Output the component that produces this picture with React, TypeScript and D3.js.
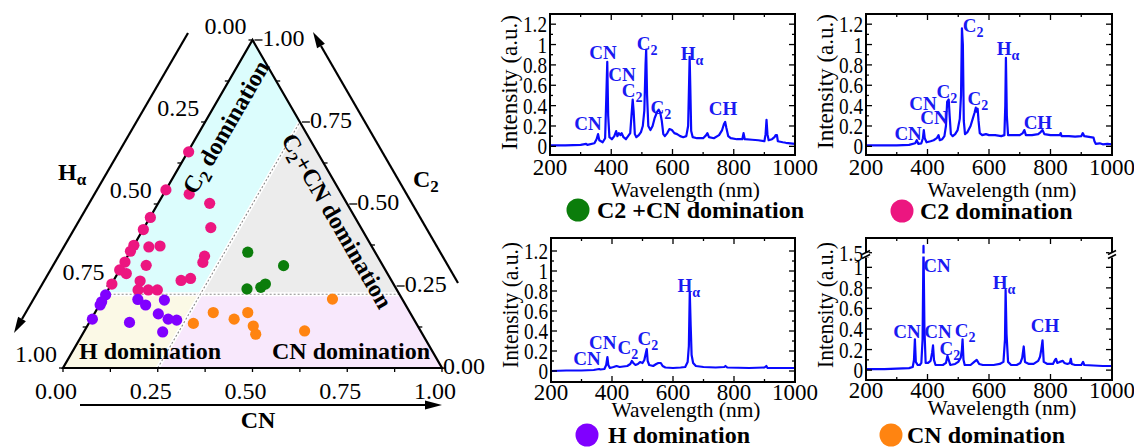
import React from "react";
import * as d3 from "d3";

// ---------- Ternary data: [CN, C2]  (Hα = 1 - CN - C2) ----------
const c2DomPoints: [number, number][] = [
  [0.002, 0.659], [0.0, 0.543], [0.068, 0.53], [0.136, 0.502], [0.001, 0.459],
  [0.176, 0.428], [0.001, 0.422], [0.0, 0.374], [0.042, 0.369], [0.07, 0.372],
  [0.0, 0.356], [0.203, 0.341], [0.208, 0.322], [0.002, 0.323], [0.063, 0.313],
  [0.0, 0.299], [0.023, 0.288], [0.178, 0.267], [0.2, 0.273], [0.001, 0.256],
  [0.071, 0.265], [0.079, 0.238], [0.106, 0.238], [0.13, 0.238],
];
const hDomPoints: [number, number][] = [
  [0.001, 0.223], [0.001, 0.202], [0.002, 0.192], [0.003, 0.149], [0.106, 0.139],
  [0.093, 0.209], [0.122, 0.192], [0.164, 0.207], [0.169, 0.165], [0.203, 0.149],
  [0.227, 0.146], [0.208, 0.11],
];
const c2cnDomPoints: [number, number][] = [
  [0.311, 0.353], [0.426, 0.312], [0.365, 0.241], [0.399, 0.246], [0.406, 0.256],
];
const cnDomPoints: [number, number][] = [
  [0.606, 0.21], [0.312, 0.169], [0.276, 0.136], [0.377, 0.149], [0.403, 0.169],
  [0.438, 0.128], [0.457, 0.103], [0.581, 0.113],
];
const c2Boundary = 0.225;
const cnBoundary = 0.25;
const ternMajor = [0, 0.25, 0.5, 0.75, 1];
const ternMajorLabels = ["0.00", "0.25", "0.50", "0.75", "1.00"];
const ternMinor = [0, 0.125, 0.25, 0.375, 0.5, 0.625, 0.75, 0.875, 1];

// ---------- Spectra: [wavelength nm, intensity a.u.] ----------
const specC2CN: [number, number][] = [
  [200, 0.01], [250, 0.01], [300, 0.015], [318, 0.025], [322, 0.015], [345, 0.03], [352, 0.07], [357, 0.12],
  [361, 0.06], [372, 0.04], [380, 0.08], [384, 0.5], [387, 0.83], [390, 0.3], [394, 0.09], [402, 0.07],
  [410, 0.1], [416, 0.15], [420, 0.1], [425, 0.13], [430, 0.11], [434, 0.13], [440, 0.09], [448, 0.07],
  [455, 0.1], [462, 0.13], [466, 0.3], [470, 0.46], [473, 0.35], [477, 0.12], [482, 0.09], [490, 0.11],
  [497, 0.14], [503, 0.2], [508, 0.35], [512, 0.8], [514, 0.95], [517, 0.5], [521, 0.2], [528, 0.16],
  [535, 0.2], [542, 0.28], [550, 0.34], [555, 0.36], [560, 0.33], [565, 0.25], [570, 0.12], [575, 0.1],
  [583, 0.13], [590, 0.17], [598, 0.16], [606, 0.13], [615, 0.12], [625, 0.1], [635, 0.09], [645, 0.1],
  [651, 0.2], [654, 0.6], [656, 0.88], [658, 0.6], [661, 0.15], [666, 0.09], [680, 0.08], [700, 0.08],
  [710, 0.11], [714, 0.13], [719, 0.09], [735, 0.08], [752, 0.11], [762, 0.16], [768, 0.22], [772, 0.24],
  [776, 0.18], [782, 0.1], [790, 0.08], [810, 0.07], [828, 0.07], [832, 0.13], [836, 0.07], [860, 0.065],
  [880, 0.06], [900, 0.05], [904, 0.12], [907, 0.26], [910, 0.12], [914, 0.06], [925, 0.07], [933, 0.09],
  [937, 0.11], [941, 0.11], [944, 0.05], [960, 0.04], [970, 0.035], [985, 0.03], [1000, 0.025],
];
const specC2: [number, number][] = [
  [200, 0.01], [300, 0.01], [340, 0.015], [360, 0.03], [365, 0.06], [370, 0.025], [380, 0.03], [385, 0.08],
  [388, 0.16], [391, 0.08], [397, 0.04], [410, 0.05], [420, 0.06], [430, 0.08], [436, 0.11], [440, 0.06],
  [448, 0.07], [455, 0.1], [460, 0.2], [464, 0.44], [469, 0.46], [472, 0.3], [476, 0.12], [482, 0.1],
  [490, 0.12], [498, 0.16], [505, 0.27], [509, 0.5], [512, 1.16], [515, 1.0], [518, 0.25], [522, 0.12],
  [530, 0.14], [540, 0.2], [548, 0.28], [553, 0.33], [557, 0.38], [560, 0.34], [563, 0.37], [566, 0.25],
  [570, 0.13], [578, 0.11], [590, 0.12], [600, 0.11], [620, 0.11], [640, 0.1], [650, 0.11], [653, 0.4],
  [655, 0.87], [658, 0.3], [662, 0.11], [680, 0.11], [700, 0.11], [710, 0.13], [715, 0.16], [720, 0.11],
  [740, 0.11], [760, 0.12], [768, 0.14], [774, 0.16], [780, 0.12], [800, 0.11], [830, 0.11], [833, 0.13],
  [836, 0.1], [860, 0.1], [880, 0.095], [900, 0.1], [905, 0.13], [910, 0.1], [930, 0.09], [940, 0.085],
  [943, 0.05], [947, 0.025], [960, 0.03], [970, 0.02], [985, 0.025], [1000, 0.02],
];
const specH: [number, number][] = [
  [200, 0.0], [250, 0.005], [300, 0.005], [340, 0.01], [358, 0.02], [362, 0.015], [375, 0.02], [381, 0.06],
  [385, 0.14], [388, 0.06], [393, 0.03], [405, 0.04], [415, 0.05], [425, 0.04], [437, 0.045], [450, 0.05],
  [460, 0.07], [465, 0.1], [470, 0.08], [477, 0.06], [485, 0.07], [492, 0.09], [500, 0.08], [506, 0.11],
  [511, 0.18], [514, 0.22], [517, 0.1], [522, 0.06], [535, 0.05], [545, 0.07], [552, 0.08], [560, 0.08],
  [566, 0.05], [575, 0.035], [600, 0.03], [625, 0.035], [640, 0.04], [648, 0.09], [652, 0.25], [655, 0.79],
  [658, 0.45], [661, 0.16], [666, 0.08], [675, 0.05], [700, 0.04], [740, 0.035], [768, 0.04], [772, 0.05],
  [778, 0.035], [850, 0.03], [900, 0.035], [906, 0.05], [910, 0.03], [950, 0.03], [1000, 0.03],
];
const specCN: [number, number][] = [
  [200, 0.01], [260, 0.01], [300, 0.015], [340, 0.02], [352, 0.03], [356, 0.1], [359, 0.3], [362, 0.08],
  [368, 0.05], [375, 0.05], [380, 0.07], [384, 0.3], [387, 1.65], [390, 0.4], [394, 0.07], [402, 0.07],
  [410, 0.09], [415, 0.17], [418, 0.24], [421, 0.1], [426, 0.05], [440, 0.05], [450, 0.05], [460, 0.07],
  [465, 0.14], [469, 0.1], [474, 0.05], [490, 0.06], [500, 0.08], [508, 0.12], [512, 0.2], [514, 0.3],
  [517, 0.1], [521, 0.05], [540, 0.05], [552, 0.08], [560, 0.1], [568, 0.06], [580, 0.05], [600, 0.05],
  [615, 0.05], [635, 0.06], [647, 0.08], [652, 0.3], [654, 0.78], [657, 0.35], [662, 0.08], [672, 0.05],
  [690, 0.05], [702, 0.07], [708, 0.12], [713, 0.23], [717, 0.08], [730, 0.06], [745, 0.06], [760, 0.09],
  [766, 0.13], [770, 0.2], [774, 0.29], [778, 0.08], [790, 0.06], [808, 0.06], [815, 0.1], [818, 0.11],
  [822, 0.07], [830, 0.08], [840, 0.09], [845, 0.07], [855, 0.06], [863, 0.07], [866, 0.11], [869, 0.06],
  [880, 0.05], [900, 0.05], [906, 0.08], [910, 0.05], [940, 0.045], [970, 0.04], [1000, 0.04],
];

// annotations: [wavelength, intensity (label centre), main text, subscript]
type Ann = [number, number, string, string];
const annC2CN: Ann[] = [
  [324, 0.23, "CN", ""], [373, 0.93, "CN", ""], [435, 0.71, "CN", ""], [468, 0.55, "C", "2"],
  [517, 1.02, "C", "2"], [664, 0.92, "H", "α"], [562, 0.39, "C", "2"], [765, 0.38, "CH", ""],
];
const annC2: Ann[] = [
  [337, 0.13, "CN", ""], [385, 0.43, "CN", ""], [421, 0.29, "CN", ""], [463, 0.54, "C", "2"],
  [548, 1.19, "C", "2"], [662, 0.97, "H", "α"], [564, 0.47, "C", "2"], [759, 0.24, "CH", ""],
];
const annH: Ann[] = [
  [318, 0.13, "CN", ""], [370, 0.29, "CN", ""], [452, 0.24, "C", "2"], [518, 0.33, "C", "2"],
  [652, 0.86, "H", "α"],
];
const annCN: Ann[] = [
  [333, 0.38, "CN", ""], [431, 1.02, "CN", ""], [434, 0.38, "CN", ""], [473, 0.22, "C", "2"],
  [522, 0.39, "C", "2"], [649, 0.86, "H", "α"], [782, 0.44, "CH", ""],
];

const xTicks = [200, 400, 600, 800, 1000];
const xMinor = [300, 500, 700, 900];
const yTicks = [0, 0.2, 0.4, 0.6, 0.8, 1, 1.2];
const yTickLabels = ["0", "0.2", "0.4", "0.6", "0.8", "1", "1.2"];
const yMinor = [0.1, 0.3, 0.5, 0.7, 0.9, 1.1];
const yTicksBroken = [0, 0.2, 0.4, 0.6, 0.8, 1, 1.5];
const yTickLabelsBroken = ["0", "0.2", "0.4", "0.6", "0.8", "1", "1.5"];
const yMinorBroken = [0.1, 0.3, 0.5, 0.7, 0.9, 1.1];

const SERIF = "'Liberation Serif', 'Times New Roman', serif";
const MAGENTA = "#ec1680";
const PURPLE = "#8000ff";
const GREEN = "#0b7d0b";
const ORANGE = "#ff8411";
const LINE_BLUE = "#0a0aff";
const TEXT_BLUE = "#1a1af2";

// ---------- Ternary ----------
const tx = d3.scaleLinear().domain([0, 1]).range([63, 442]);
const ty = d3.scaleLinear().domain([0, 1]).range([368, 40]);
const proj = (cn: number, c2: number): [number, number] => [tx(cn + c2 / 2), ty(c2)];
const poly = (pts: [number, number][]) =>
  pts.map((p) => proj(p[0], p[1]).join(",")).join(" ");

function Ternary() {
  const b = c2Boundary;
  const c = cnBoundary;
  const [lx, ly] = proj(0, 0);
  const [rx, ry] = proj(1, 0);
  const [ax, ay] = proj(0, 1);
  return (
    <g fontFamily={SERIF}>
      {/* regions */}
      <polygon points={poly([[0, b], [0, 1], [c, 1 - c], [c, b]])} fill="#dcfdfd" />
      <polygon points={poly([[c, b], [c, 1 - c], [1 - b, b]])} fill="#ececec" />
      <polygon points={poly([[0, 0], [c, 0], [c, b], [0, b]])} fill="#fbf9e6" />
      <polygon points={poly([[c, 0], [1, 0], [1 - b, b], [c, b]])} fill="#f8e8fc" />
      {/* separators */}
      {[
        [proj(0, b), proj(1 - b, b)],
        [proj(c, 0), proj(c, 1 - c)],
      ].map((s, i) => (
        <g key={i}>
          <line x1={s[0][0]} y1={s[0][1]} x2={s[1][0]} y2={s[1][1]} stroke="#fff" strokeWidth={4} />
          <line x1={s[0][0]} y1={s[0][1]} x2={s[1][0]} y2={s[1][1]} stroke="#8a8a8a" strokeWidth={1.1} strokeDasharray="2,2" />
        </g>
      ))}
      {/* outline */}
      <polygon points={`${lx},${ly} ${rx},${ry} ${ax},${ay}`} fill="none" stroke="#000" strokeWidth={2.2} strokeLinejoin="miter" />
      {/* ticks */}
      {ternMinor.map((v) => {
        const [bx, by] = proj(v, 0);
        const [hx, hy] = proj(0, 1 - v);
        const [cx, cy] = proj(1 - v, v);
        const major = ternMajor.includes(v);
        return (
          <g key={v} stroke="#000" strokeWidth={1.3}>
            <line x1={bx} y1={by} x2={bx} y2={by + 4} />
            <line x1={hx} y1={hy} x2={hx - 4} y2={hy} />
            {major && v > 0 ? (
              <line x1={cx + 2} y1={cy} x2={cx + 10} y2={cy} />
            ) : (
              <line x1={cx} y1={cy} x2={cx + 4} y2={cy} />
            )}
          </g>
        );
      })}
      {/* tick labels */}
      {ternMajor.map((v, i) => {
        const [bx, by] = proj(v, 0);
        const [hx, hy] = proj(0, 1 - v);
        const [cx, cy] = proj(1 - v, v);
        return (
          <g key={"l" + v} fontSize={24} fill="#000">
            <text x={bx - 7} y={by + 31} textAnchor="middle">{ternMajorLabels[i]}</text>
            <text x={hx - 6} y={hy - 6} textAnchor="end">{ternMajorLabels[i]}</text>
            <text x={v > 0 ? cx + 10 : cx + 1} y={cy + 6} textAnchor="start">{ternMajorLabels[i]}</text>
          </g>
        );
      })}
      {/* axis arrows */}
      <g stroke="#000" strokeWidth={2.2} fill="#000">
        <line x1={188} y1={33} x2={22} y2={319} />
        <polygon points="14,333 25.9,321.2 18.1,316.8" stroke="none" />
        <line x1={458} y1={283} x2={321} y2={46} />
        <polygon points="313,32 324.9,43.7 317.1,48.2" stroke="none" />
        <line x1={80} y1={405} x2={426} y2={405} />
        <polygon points="442,405 425,400.5 425,409.5" stroke="none" />
      </g>
      {/* axis titles */}
      <g fontSize={24} fontWeight="bold" fill="#000">
        <text x={58} y={180}>H<tspan fontSize={17} dy={5}>α</tspan></text>
        <text x={413} y={187}>C<tspan fontSize={17} dy={5}>2</tspan></text>
        <text x={258} y={428} textAnchor="middle">CN</text>
      </g>
      {/* points */}
      {[
        [c2DomPoints, MAGENTA],
        [hDomPoints, PURPLE],
        [c2cnDomPoints, GREEN],
        [cnDomPoints, ORANGE],
      ].map(([pts, col]: any, k) =>
        (pts as [number, number][]).map((p, i) => {
          const [x, y] = proj(p[0], p[1]);
          return <circle key={k + "-" + i} cx={x} cy={y} r={5.6} fill={col} />;
        })
      )}
      {/* region labels */}
      <g fontSize={24} fontWeight="bold" fill="#000">
        <text x={150} y={359} textAnchor="middle">H domination</text>
        <text x={351} y={359} textAnchor="middle">CN domination</text>
        <g transform="translate(226,127) rotate(-60)">
          <text x={0} y={8} textAnchor="middle">C<tspan fontSize={17} dy={5}>2</tspan><tspan dy={-5}> domination</tspan></text>
        </g>
        <g transform="translate(337,221) rotate(60)">
          <text x={0} y={8} textAnchor="middle">C<tspan fontSize={17} dy={5}>2</tspan><tspan dy={-5}>+CN domination</tspan></text>
        </g>
      </g>
    </g>
  );
}

// ---------- Spectrum panel ----------
type PanelProps = {
  left: number; right: number; top: number; bottom: number;
  yDomain: number[]; yRange: number[];
  data: [number, number][]; ann: Ann[];
  ticks: number[]; tickLabels: string[]; minor: number[];
  lblOff: number; titleOff: number; yTitleLen: number; yTitleShift: number;
  legendColor: string; legendText: React.ReactNode; legendX: number; legendY: number; legendTextX: number;
  broken?: number;
};

function Panel(p: PanelProps) {
  const x = d3.scaleLinear().domain([200, 1000]).range([p.left, p.right]);
  const y = d3.scaleLinear().domain(p.yDomain).range(p.yRange);
  const line = d3.line<[number, number]>().x((d) => x(d[0])).y((d) => y(d[1]));
  const clipId = "clip" + p.left + "_" + p.top;
  return (
    <g fontFamily={SERIF}>
      <defs>
        <clipPath id={clipId}>
          <rect x={p.left} y={p.top} width={p.right - p.left} height={p.bottom - p.top} />
        </clipPath>
      </defs>
      <path d={line(p.data) || ""} fill="none" stroke={LINE_BLUE} strokeWidth={2.2} strokeLinejoin="round" clipPath={`url(#${clipId})`} />
      {p.broken !== undefined && (
        <rect x={p.left + 2} y={p.broken - 1.5} width={p.right - p.left - 4} height={3} fill="#fff" />
      )}
      <rect x={p.left} y={p.top} width={p.right - p.left} height={p.bottom - p.top} fill="none" stroke="#000" strokeWidth={2} />
      <g stroke="#000" strokeWidth={1.3}>
        {p.ticks.map((v) => (
          <g key={"yt" + v}>
            <line x1={p.left} x2={p.left + 6} y1={y(v)} y2={y(v)} />
            <line x1={p.right} x2={p.right - 6} y1={y(v)} y2={y(v)} />
          </g>
        ))}
        {p.minor.map((v) => (
          <g key={"ym" + v}>
            <line x1={p.left} x2={p.left + 3} y1={y(v)} y2={y(v)} />
            <line x1={p.right} x2={p.right - 3} y1={y(v)} y2={y(v)} />
          </g>
        ))}
        {xTicks.map((v) => (
          <g key={"xt" + v}>
            <line x1={x(v)} x2={x(v)} y1={p.bottom} y2={p.bottom - 6} />
            <line x1={x(v)} x2={x(v)} y1={p.top} y2={p.top + 6} />
          </g>
        ))}
        {xMinor.map((v) => (
          <g key={"xm" + v}>
            <line x1={x(v)} x2={x(v)} y1={p.bottom} y2={p.bottom - 3} />
            <line x1={x(v)} x2={x(v)} y1={p.top} y2={p.top + 3} />
          </g>
        ))}
      </g>
      {p.broken !== undefined &&
        [p.left, p.right].map((bx) => (
          <g key={"br" + bx}>
            <rect x={bx - 3} y={p.broken! - 2.5} width={6} height={5} fill="#fff" />
            <line x1={bx - 4} y1={p.broken! - 0.5} x2={bx + 4} y2={p.broken! - 4.5} stroke="#000" strokeWidth={1.6} />
            <line x1={bx - 4} y1={p.broken! + 3.5} x2={bx + 4} y2={p.broken! - 0.5} stroke="#000" strokeWidth={1.6} />
          </g>
        ))}
      {/* y labels */}
      {p.ticks.map((v, i) => (
        <text key={"yl" + v} transform={`translate(${p.left - 3},${y(v) + 8}) scale(0.8,1)`} fontSize={24} textAnchor="end">
          {p.tickLabels[i]}
        </text>
      ))}
      {xTicks.map((v) => (
        <text key={"xl" + v} x={x(v)} y={p.bottom + p.lblOff} fontSize={23} textAnchor="middle">{v}</text>
      ))}
      <text x={(p.left + p.right) / 2 + 13} y={p.bottom + p.titleOff} fontSize={22} textAnchor="middle"
        textLength={149} lengthAdjust="spacingAndGlyphs">Wavelength (nm)</text>
      <text transform={`translate(${p.left - 33},${(p.top + p.bottom) / 2 + p.yTitleShift}) rotate(-90)`} fontSize={23}
        textAnchor="middle" textLength={p.yTitleLen} lengthAdjust="spacingAndGlyphs">Intensity (a.u.)</text>
      {/* annotations */}
      <g fontSize={19} fontWeight="bold" fill={TEXT_BLUE}>
        {p.ann.map((a, i) => (
          <text key={"an" + i} x={x(a[0])} y={y(a[1]) + 7} textAnchor="middle">
            {a[2]}
            {a[3] && <tspan fontSize={14} dy={5}>{a[3]}</tspan>}
          </text>
        ))}
      </g>
      {/* legend */}
      <circle cx={p.legendX} cy={p.legendY} r={11.5} fill={p.legendColor} />
      <text x={p.legendTextX} y={p.legendY + 8} fontSize={24} fontWeight="bold">{p.legendText}</text>
    </g>
  );
}

export default function App() {
  return (
    <svg width={1134} height={447} viewBox="0 0 1134 447" style={{ position: "absolute", left: 0, top: 0, background: "#fff" }}>
      <rect x={0} y={0} width={1134} height={447} fill="#fff" />
      <Ternary />
      <Panel left={550} right={795} top={14} bottom={155} yDomain={[-0.085, 1.3]} yRange={[155, 14]}
        data={specC2CN} ann={annC2CN} ticks={yTicks} tickLabels={yTickLabels} minor={yMinor}
        lblOff={20} titleOff={42} yTitleLen={135} yTitleShift={-2}
        legendColor={GREEN} legendText="C2 +CN domination" legendX={578} legendY={210} legendTextX={597} />
      <Panel left={866} right={1112} top={14} bottom={155} yDomain={[-0.085, 1.3]} yRange={[155, 14]}
        data={specC2} ann={annC2} ticks={yTicks} tickLabels={yTickLabels} minor={yMinor}
        lblOff={20} titleOff={42} yTitleLen={135} yTitleShift={-3}
        legendColor={MAGENTA} legendText="C2 domination" legendX={902} legendY={211} legendTextX={920} />
      <Panel left={551} right={795} top={238} bottom={382} yDomain={[-0.11, 1.33]} yRange={[382, 238]}
        data={specH} ann={annH} ticks={yTicks} tickLabels={yTickLabels} minor={yMinor}
        lblOff={18} titleOff={35} yTitleLen={126} yTitleShift={-5}
        legendColor={PURPLE} legendText="H domination" legendX={587} legendY={435} legendTextX={608} />
      <Panel left={866} right={1112} top={238} bottom={380} yDomain={[-0.1, 1.12, 1.45, 1.82]} yRange={[380.4, 255, 255, 238]}
        data={specCN} ann={annCN} ticks={yTicksBroken} tickLabels={yTickLabelsBroken} minor={yMinorBroken}
        lblOff={18} titleOff={35} yTitleLen={126} yTitleShift={-4}
        legendColor={ORANGE} legendText="CN domination" legendX={891} legendY={435} legendTextX={907} broken={255} />
    </svg>
  );
}
